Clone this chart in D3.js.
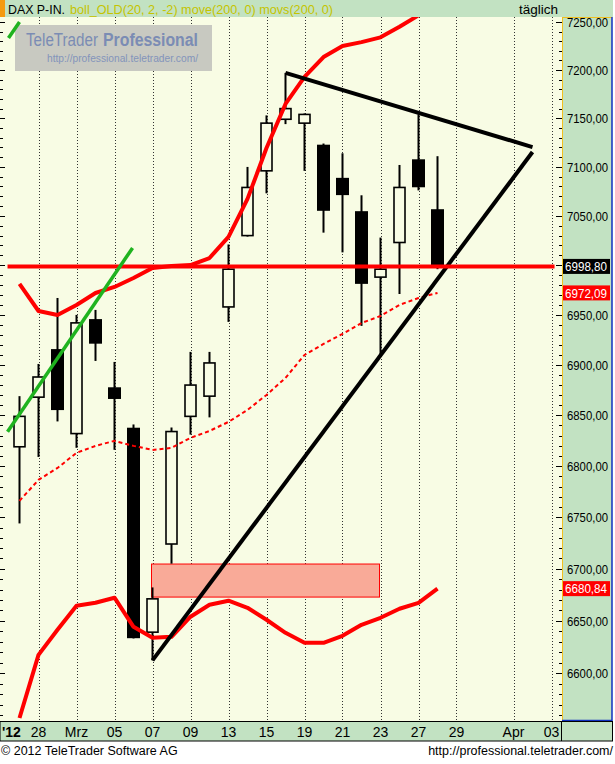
<!DOCTYPE html>
<html><head><meta charset="utf-8">
<script src="https://cdn.jsdelivr.net/npm/d3@7"></script>
<style>body{margin:0;background:#fff}svg{display:block}text{font-family:"Liberation Sans",Arial,sans-serif}</style>
</head><body><svg id="c" width="615" height="764"></svg>
<script>
// ---------- data ----------
const slots = ["27.02","28.02","29.02","01.03","02.03","05.03","06.03","07.03","08.03","09.03","12.03","13.03","14.03","15.03","16.03","19.03","20.03","21.03","22.03","23.03","26.03","27.03","28.03","29.03","30.03","31.03","01.04","02.04","03.04"];
const candleDates = ["27.02","28.02","29.02","01.03","02.03","05.03","06.03","07.03","08.03","09.03","12.03","13.03","14.03","15.03","16.03","19.03","20.03","21.03","22.03","23.03","26.03","27.03","28.03"];
const opens  = [6819,6868,6915,6832,6945,6877,6837,6639,6724,6849,6869,6958,7030,7096,7149,7145,7122,7088,7054,6988,7023,7107,7056];
const highs  = [6869,6901,6967,6950,6955,6903,6841,6682,6838,6913,6913,7021,7100,7153,7197,7155,7124,7114,7071,7028,7102,7154,7111];
const lows   = [6744,6809,6844,6818,6904,6816,6633,6612,6705,6831,6848,6943,7029,7073,7144,7096,7033,7013,6939,6910,6971,7076,6996];
const closes = [6849,6888,6856,6942,6922,6867,6634,6671,6834,6880,6902,6996,7079,7145,7160,7154,7056,7072,6982,6996,7079,7080,6998.80];
const bollUpper = [6981.1,6953.9,6949.9,6960.0,6972.0,6978.1,6987.1,6997.2,6999.2,7000.2,7007.3,7028.7,7067.3,7119.4,7164.8,7192.8,7213.5,7225,7229,7234,7245,7257,7264];
const bollMid   = [6766.0,6786.5,6798.2,6813.0,6819.9,6824.8,6819.9,6815.9,6817.9,6827.8,6834.6,6843.5,6855.4,6870.2,6887.1,6910.0,6920.9,6931.0,6941.9,6948.9,6960.0,6967.0,6972.09];
const bollLower = [6557.3,6617.3,6641.3,6664.4,6667.2,6672.1,6644.1,6633.6,6634.5,6653.8,6665.3,6669.2,6662.4,6650.9,6638.4,6628.8,6628.8,6635.5,6646.1,6652.8,6661.5,6667.2,6680.84];
const xTickDates  = ["28.02","01.03","05.03","07.03","09.03","13.03","15.03","19.03","21.03","23.03","27.03","29.03","01.04","03.04"];
const xTickLabels = ["28","Mrz","05","07","09","13","15","19","21","23","27","29","Apr","03"];
const yTickValues = [6600,6650,6700,6750,6800,6850,6900,6950,7050,7100,7150,7200,7250];
// drawn objects: [slot index, price]
const triangleLower = [[7,6612],[27,7115.3]];
const triangleUpper = [[14,7197],[27,7120.4]];
const greenTrend    = [[-0.63,6833.7],[5.95,7017.5]];
const greenTrend2   = [[-0.58,7233.3],[0,7250]];
const lastLine      = [[-0.63,6998.80],[28.16,6998.80]];
const gapBox        = {from:7, to:19, lo:6672.7, hi:6704.6};
const lastClose = 6998.80, lastMid = 6972.09, lastLower = 6680.84;

// ---------- layout ----------
const svg = d3.select("#c");
const W = 615, H = 764;
const plot = {l:0, t:17, r:562, b:721};
const GREEN = "#c2e2c2", BG = "#f8fce4";
const x = d3.scaleLinear().domain([0,28]).range([19.5,551.5]);
const y = d3.scaleLog().domain([7200,6600]).range([70,673]);
const idx = d => slots.indexOf(d);
const fmt = d3.formatLocale({decimal:",",thousands:"",grouping:[3],currency:["","€"]}).format(".2f");

svg.append("rect").attr("width",W).attr("height",H).attr("fill","#fff");
// header
svg.append("rect").attr("x",0).attr("y",0).attr("width",613).attr("height",17).attr("fill",GREEN);
svg.append("rect").attr("x",0).attr("y",0).attr("width",5).attr("height",17).attr("fill","#f59a10");
svg.append("text").attr("x",8).attr("y",13.5).attr("font-size",13.5).attr("fill","#000")
  .attr("textLength",57).attr("lengthAdjust","spacingAndGlyphs").text("DAX P-IN.");
svg.append("text").attr("x",70).attr("y",13.5).attr("font-size",13.5).attr("fill","#c4c400")
  .attr("textLength",263).attr("lengthAdjust","spacingAndGlyphs").text("boll_OLD(20, 2, -2) move(200, 0) movs(200, 0)");
svg.append("text").attr("x",558).attr("y",13.5).attr("font-size",13.5).attr("text-anchor","end").text("täglich");

// plot bg
svg.append("rect").attr("x",plot.l).attr("y",plot.t).attr("width",plot.r-plot.l).attr("height",plot.b-plot.t).attr("fill",BG);
// right axis panel
svg.append("rect").attr("x",562).attr("y",17).attr("width",50).attr("height",704).attr("fill",GREEN);
svg.append("line").attr("x1",562.5).attr("x2",562.5).attr("y1",17).attr("y2",721).attr("stroke","#f0c020").attr("stroke-width",1);
svg.append("line").attr("x1",562).attr("x2",612).attr("y1",17.5).attr("y2",17.5).attr("stroke","#f0c020").attr("stroke-width",1);
svg.append("line").attr("x1",612).attr("x2",612).attr("y1",17).attr("y2",721).attr("stroke","#1030c0").attr("stroke-width",1.5);
svg.append("line").attr("x1",562).attr("x2",612).attr("y1",720.5).attr("y2",720.5).attr("stroke","#1030c0").attr("stroke-width",1.5);

// clip
svg.append("clipPath").attr("id","pc").append("rect").attr("x",plot.l).attr("y",plot.t).attr("width",plot.r-plot.l).attr("height",plot.b-plot.t);
const g = svg.append("g").attr("clip-path","url(#pc)");

// vertical dotted grid
xTickDates.forEach(d=>{
  const xx = Math.round(x(idx(d)))+0.5;
  g.append("line").attr("x1",xx).attr("x2",xx).attr("y1",plot.t).attr("y2",plot.b)
   .attr("stroke","#333").attr("stroke-width",1).attr("stroke-dasharray","1,2");
});

// y ticks (minor every 10, major every 50)
const minor = d3.range(6550,7270,10);
minor.forEach(v=>{
  const yy = Math.round(y(v))+0.5;
  if (yy<plot.t+2 || yy>plot.b) return;
  const major = v%50===0;
  svg.append("line").attr("x1",major?556:559).attr("x2",562).attr("y1",yy).attr("y2",yy).attr("stroke","#000");
  svg.append("line").attr("x1",0).attr("x2",major?5:3).attr("y1",yy).attr("y2",yy).attr("stroke","#000");
});

// watermark box
g.append("rect").attr("x",15).attr("y",25).attr("width",197).attr("height",46).attr("fill","#c8c9c1");
g.append("text").attr("x",26).attr("y",46).attr("font-size",17.5).attr("fill","#7b8cb4")
  .attr("textLength",72).attr("lengthAdjust","spacingAndGlyphs").text("TeleTrader");
g.append("text").attr("x",103).attr("y",46).attr("font-size",17.5).attr("font-weight","bold").attr("fill","#7b8cb4")
  .attr("textLength",95).attr("lengthAdjust","spacingAndGlyphs").text("Professional");
g.append("text").attr("x",47).attr("y",62).attr("font-size",11.5).attr("fill","#8394bb")
  .attr("textLength",151).attr("lengthAdjust","spacingAndGlyphs").text("http://professional.teletrader.com/");

// gap box
g.append("rect").attr("x",x(gapBox.from)-1).attr("y",y(gapBox.hi)).attr("width",x(gapBox.to)-x(gapBox.from)).attr("height",y(gapBox.lo)-y(gapBox.hi))
 .attr("fill","#f9aa98").attr("stroke","#ff0000").attr("stroke-width",1);

// candles
candleDates.forEach((d,i)=>{
  const cx = x(idx(d));
  const o=opens[i], c=closes[i], h=highs[i], l=lows[i];
  const up = c>=o;
  g.append("rect").attr("x",cx-1).attr("y",y(h)).attr("width",2).attr("height",Math.max(1,y(l)-y(h))).attr("fill","#000");
  const top = y(Math.max(o,c)), bot = y(Math.min(o,c));
  if (up) {
    g.append("rect").attr("x",cx-5.5).attr("y",top).attr("width",11).attr("height",Math.max(1,bot-top))
     .attr("fill",BG).attr("stroke","#000").attr("stroke-width",1.6);
  } else {
    g.append("rect").attr("x",cx-6.5).attr("y",top-0.8).attr("width",13).attr("height",Math.max(1,bot-top)+1.6).attr("fill","#000");
  }
});

// bollinger
const line = d3.line().x((v,i)=>x(idx(candleDates[i]))).y(v=>y(v));
g.append("path").attr("d",line(bollUpper)).attr("fill","none").attr("stroke","#ff0000").attr("stroke-width",4).attr("stroke-linejoin","round");
g.append("path").attr("d",line(bollLower)).attr("fill","none").attr("stroke","#ff0000").attr("stroke-width",4).attr("stroke-linejoin","round");
g.append("path").attr("d",line(bollMid)).attr("fill","none").attr("stroke","#ff0000").attr("stroke-width",2).attr("stroke-dasharray","4,3");

// trend lines
const tl = d3.line().x(p=>x(p[0])).y(p=>y(p[1]));
g.append("path").attr("d",tl(triangleLower)).attr("stroke","#000").attr("stroke-width",4).attr("fill","none");
g.append("path").attr("d",tl(triangleUpper)).attr("stroke","#000").attr("stroke-width",4).attr("fill","none");
g.append("path").attr("d",tl(lastLine)).attr("stroke","#ff0000").attr("stroke-width",4).attr("fill","none");
g.append("path").attr("d",tl(greenTrend)).attr("stroke","#1fb31f").attr("stroke-width",3.5).attr("fill","none");
g.append("path").attr("d",tl(greenTrend2)).attr("stroke","#1fb31f").attr("stroke-width",3.5).attr("fill","none");

// y labels
yTickValues.forEach(v=>{
  svg.append("text").attr("x",567).attr("y",y(v)).attr("dy","0.36em").attr("font-size",13.5)
    .attr("textLength",41).attr("lengthAdjust","spacingAndGlyphs").attr("fill","#000").text(fmt(v));
});
function tag(v, fill){
  const yy = y(v);
  svg.append("rect").attr("x",563).attr("y",yy-7.5).attr("width",47).attr("height",15).attr("fill",fill);
  svg.append("text").attr("x",565).attr("y",yy).attr("dy","0.36em").attr("font-size",13.5)
    .attr("textLength",42).attr("lengthAdjust","spacingAndGlyphs").attr("fill","#fff").text(fmt(v));
}
tag(lastClose,"#000");
tag(lastMid,"#ff0000");
tag(lastLower,"#ff0000");

// x axis bar
svg.append("rect").attr("x",0).attr("y",721.5).attr("width",612.5).attr("height",19.5).attr("fill",GREEN).attr("stroke","#000").attr("stroke-width",1);
svg.append("line").attr("x1",561.5).attr("x2",561.5).attr("y1",721.5).attr("y2",741).attr("stroke","#000");
svg.append("text").attr("x",2).attr("y",736.5).attr("font-size",14).attr("font-weight","bold").text("'12");
xTickDates.forEach((d,i)=>{
  svg.append("text").attr("x",x(idx(d))).attr("y",736.5).attr("font-size",14).attr("text-anchor","middle").text(xTickLabels[i]);
});
// footer
svg.append("text").attr("x",1).attr("y",755).attr("font-size",12.5).text("© 2012 TeleTrader Software AG");
svg.append("text").attr("x",613).attr("y",755).attr("font-size",12.5).attr("text-anchor","end").text("http://professional.teletrader.com/");
</script></body></html>
